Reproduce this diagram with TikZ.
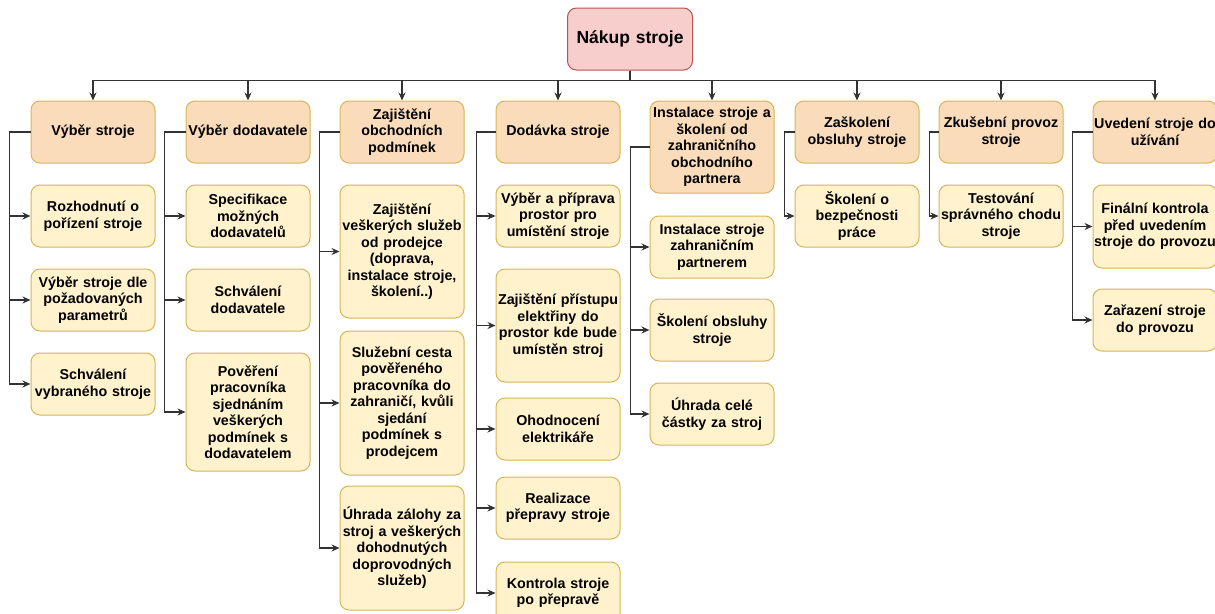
\documentclass[tikz,border=0pt]{standalone}
\usepackage{fontspec}
\setmainfont{Liberation Sans}
\usetikzlibrary{arrows.meta,positioning}
\definecolor{rootfill}{HTML}{F8CECC}
\definecolor{rootline}{HTML}{B85450}
\definecolor{grpfill}{HTML}{FBDCBA}
\definecolor{boxfill}{HTML}{FFF2CC}
\definecolor{boxline}{HTML}{D6B656}
\definecolor{wire}{HTML}{333333}

\begin{document}
\begin{tikzpicture}[x=1pt, y=-1pt,
  font=\fontsize{14.3}{16.5}\selectfont\bfseries,
  base/.style={draw=boxline, line width=1pt, rounded corners=9pt, align=center,
    text width=122pt, inner xsep=1pt, inner ysep=2pt, minimum height=62pt},
  root/.style={base, draw=rootline, fill=rootfill, text width=123pt,
    font=\fontsize{17.5}{20}\selectfont\bfseries},
  grp/.style={base, fill=grpfill},
  box/.style={base, fill=boxfill},
  ar/.style={-{Stealth[length=8pt, width=7pt]}, line width=1.1pt, draw=wire}]
\path[use as bounding box, fill=white] (0,0) rectangle (1215,613);
\node[root] (nakup) at (630,39) {Nákup stroje};
% second level
\node[grp] (g1) at (93,132) {Výběr stroje};
\node[grp] (g2) at (248,132) {Výběr dodavatele};
\node[grp] (g3) at (402,132) {Zajištění\\obchodních\\podmínek};
\node[grp] (g4) at (558,132) {Dodávka stroje};
\node[grp, minimum height=92pt] (g5) at (712,147)
  {Instalace stroje a\\školení od\\zahraničního\\obchodního\\partnera};
\node[grp] (g6) at (857,132) {Zaškolení\\obsluhy stroje};
\node[grp] (g7) at (1001,132) {Zkušební provoz\\stroje};
\node[grp] (g8) at (1155,132) {Uvedení stroje do\\užívání};
\foreach \g in {g1,g2,g3,g4,g5,g6,g7,g8}
  \draw[ar] (nakup.south) -- ++(0,10) -| (\g.north);
% Vyber stroje
\node[box, below=21pt of g1] (v1) {Rozhodnutí o\\pořízení stroje};
\node[box, below=21pt of v1] (v2) {Výběr stroje dle\\požadovaných\\parametrů};
\node[box, below=21pt of v2] (v3) {Schválení\\vybraného stroje};
\foreach \c in {v1,v2,v3}
  \draw[ar] (g1.west) -- ++(-21,0) |- (\c.west);
% Vyber dodavatele
\node[box, below=21pt of g2] (d1) {Specifikace\\možných\\dodavatelů};
\node[box, below=21pt of d1] (d2) {Schválení\\dodavatele};
\node[box, below=21pt of d2, minimum height=118pt] (d3)
  {Pověření\\pracovníka\\sjednáním\\veškerých\\podmínek s\\dodavatelem};
\foreach \c in {d1,d2,d3}
  \draw[ar] (g2.west) -- ++(-21,0) |- (\c.west);
% Obchodni podminky
\node[box, below=21pt of g3, minimum height=133pt] (z1)
  {Zajištění\\veškerých služeb\\od prodejce\\(doprava,\\instalace stroje,\\školení..)};
\node[box, below=12pt of z1, minimum height=144pt] (z2)
  {Služební cesta\\pověřeného\\pracovníka do\\zahraničí, kvůli\\sjedání\\podmínek s\\prodejcem};
\node[box, below=10pt of z2, minimum height=124pt] (z3)
  {Úhrada zálohy za\\stroj a veškerých\\dohodnutých\\doprovodných\\služeb)};
\foreach \c in {z1,z2,z3}
  \draw[ar] (g3.west) -- ++(-20,0) |- (\c.west);
% Dodavka
\node[box, below=21pt of g4] (p1) {Výběr a příprava\\prostor pro\\umístění stroje};
\node[box, below=21pt of p1, minimum height=113pt] (p2)
  {Zajištění přístupu\\elektřiny do\\prostor kde bude\\umístěn stroj};
\node[box, below=15pt of p2] (p3) {Ohodnocení\\elektrikáře};
\node[box, below=16pt of p3] (p4) {Realizace\\přepravy stroje};
\node[box, below=22pt of p4] (p5) {Kontrola stroje\\po přepravě};
\foreach \c in {p1,p2,p3,p4,p5}
  \draw[ar] (g4.west) -- ++(-19,0) |- (\c.west);
% Instalace
\node[box, below=22pt of g5] (i1) {Instalace stroje\\zahraničním\\partnerem};
\node[box, below=20pt of i1] (i2) {Školení obsluhy\\stroje};
\node[box, below=21pt of i2] (i3) {Úhrada celé\\částky za stroj};
\foreach \c in {i1,i2,i3}
  \draw[ar] (g5.west) -- ++(-19,0) |- (\c.west);
% Zaskoleni, zkusebni provoz
\node[box, below=21pt of g6] (s1) {Školení o\\bezpečnosti\\práce};
\draw[ar] (g6.west) -- ++(-10,0) |- (s1.west);
\node[box, below=21pt of g7] (t1) {Testování\\správného chodu\\stroje};
\draw[ar] (g7.west) -- ++(-9,0) |- (t1.west);
% Uvedeni do uzivani
\node[box, below=21pt of g8, minimum height=83pt] (u1)
  {Finální kontrola\\před uvedením\\stroje do provozu};
\node[box, below=20pt of u1] (u2) {Zařazení stroje\\do provozu};
\foreach \c in {u1,u2}
  \draw[ar] (g8.west) -- ++(-20,0) |- (\c.west);
\end{tikzpicture}
\end{document}
